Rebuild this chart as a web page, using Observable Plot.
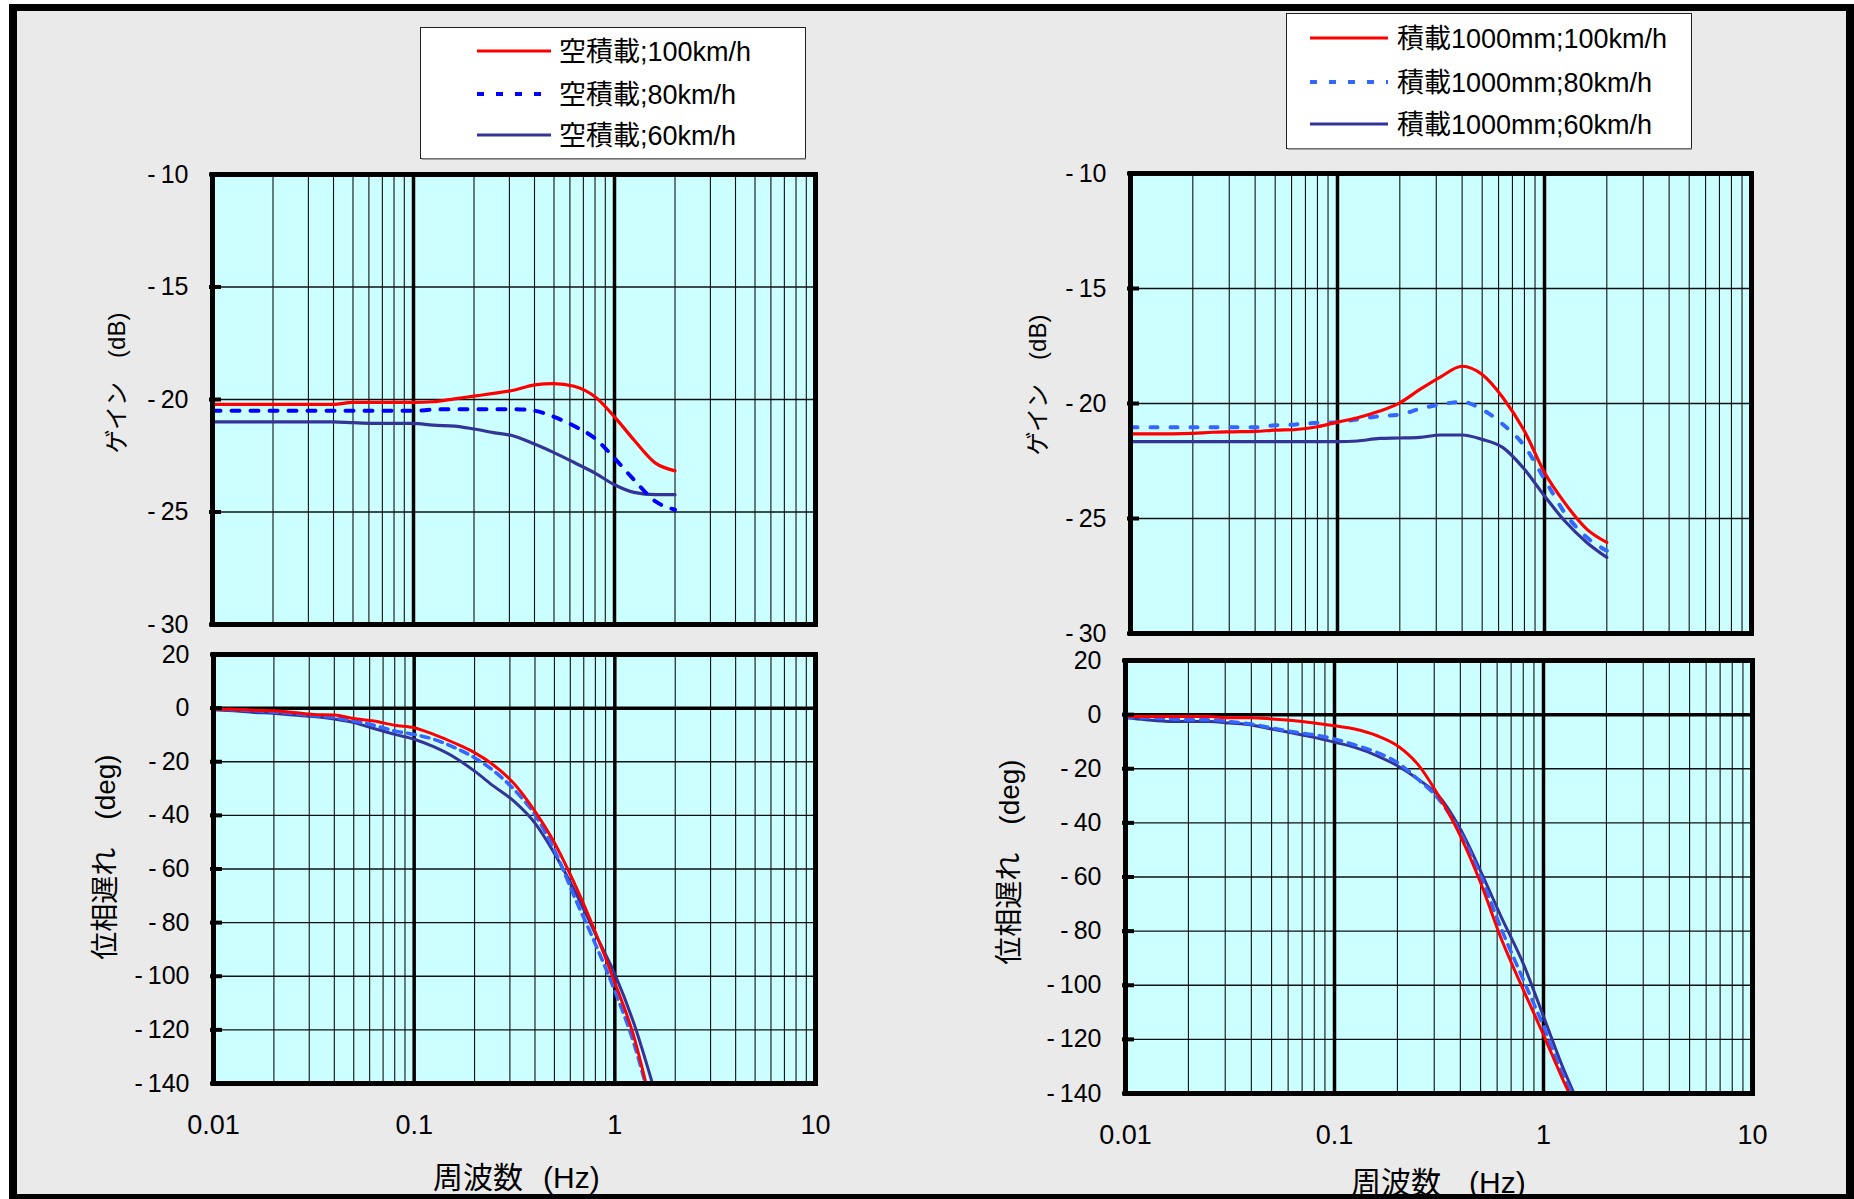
<!DOCTYPE html>
<html>
<head>
<meta charset="utf-8">
<script src="https://cdn.jsdelivr.net/npm/d3@7"></script>
<script src="https://cdn.jsdelivr.net/npm/@observablehq/plot@0.6"></script>
<style>
html, body { margin: 0; padding: 0; background: #fff; }
#page { position: relative; width: 1854px; height: 1199px; overflow: hidden;
  font-family: "Liberation Sans", "Noto Sans CJK JP", sans-serif; color: #000; }
#border { position: absolute; left: 9px; top: 4px; width: 1845px; height: 1195px; box-sizing: border-box;
  border-style: solid; border-color: #000; border-width: 7px 8px 5px 8px; background: #eaeaea; }
.ytitle { position: absolute; white-space: pre; transform: translate(-50%, -50%) rotate(-90deg); line-height: 1; }
.xtitle { position: absolute; white-space: pre; line-height: 1; transform: translateY(-50%); }
svg.legend { position: absolute; }
</style>
</head>
<body>
<div id="page"><div id="border"></div></div>
<script>
// ---------------- data ----------------
const freqGrid = [0.01, 0.0125, 0.016, 0.02, 0.025, 0.0315, 0.04, 0.05, 0.063, 0.08, 0.1, 0.125, 0.16, 0.2, 0.25, 0.315, 0.4, 0.5, 0.63, 0.8, 1.0, 1.25, 1.6, 2.0];

// gain (dB), empty load
const gainEmpty100 = [-20.22, -20.22, -20.22, -20.22, -20.22, -20.22, -20.22, -20.13, -20.13, -20.13, -20.13, -20.1, -19.97, -19.85, -19.73, -19.59, -19.35, -19.29, -19.41, -19.88, -20.77, -21.8, -22.83, -23.17];
const gainEmpty80  = [-20.5, -20.5, -20.5, -20.5, -20.5, -20.5, -20.5, -20.5, -20.5, -20.5, -20.5, -20.45, -20.43, -20.43, -20.43, -20.43, -20.5, -20.77, -21.18, -21.73, -22.61, -23.57, -24.53, -24.9];
const gainEmpty60  = [-20.99, -20.99, -20.99, -20.99, -20.99, -20.99, -20.99, -21.03, -21.06, -21.06, -21.06, -21.14, -21.18, -21.31, -21.47, -21.62, -21.98, -22.36, -22.8, -23.27, -23.79, -24.13, -24.23, -24.23];
// gain (dB), load 1000mm
const gainLoad100 = [-21.32, -21.32, -21.32, -21.3, -21.25, -21.23, -21.21, -21.16, -21.13, -21.01, -20.81, -20.62, -20.33, -19.97, -19.39, -18.84, -18.38, -18.74, -19.75, -21.2, -23.0, -24.31, -25.46, -26.04];
const gainLoad80  = [-21.03, -21.03, -21.03, -21.03, -21.03, -21.03, -21.03, -20.95, -20.91, -20.84, -20.81, -20.69, -20.55, -20.48, -20.23, -20.04, -19.93, -20.26, -20.91, -21.85, -23.29, -24.74, -25.82, -26.4];
const gainLoad60  = [-21.66, -21.66, -21.66, -21.66, -21.66, -21.66, -21.66, -21.66, -21.66, -21.66, -21.66, -21.63, -21.52, -21.5, -21.47, -21.37, -21.37, -21.56, -21.92, -22.86, -24.02, -25.1, -26.04, -26.69];

// phase (deg): values on freqGrid up to 1.25 Hz, last value where the curve leaves the plot at the frequency in *End
const phaseEmpty100 = [-0.4, -0.4, -0.8, -1.0, -1.6, -2.4, -2.6, -3.9, -4.8, -6.4, -7.3, -9.8, -13.1, -16.6, -21.4, -28.2, -38.5, -50.2, -65.5, -83.6, -102.4, -123, -140];
const phaseEmpty80  = [-0.4, -0.6, -1.0, -1.4, -2.0, -2.8, -3.5, -4.8, -6.4, -8.5, -9.8, -11.6, -14.8, -18.5, -23.5, -30.4, -39.8, -52.9, -70.5, -88, -105.5, -125.5, -140];
const phaseEmpty60  = [-0.6, -1.0, -1.6, -1.9, -2.6, -3.1, -4.1, -5.4, -7.6, -9.8, -11.6, -14.4, -18.5, -23.5, -29.2, -34.8, -42.9, -54.2, -68.0, -84.2, -99.2, -118, -140];
const phaseEmptyEnd = [1.43, 1.42, 1.54];
const phaseLoad100 = [-0.7, -0.7, -0.7, -0.7, -0.7, -1.2, -1.2, -1.6, -2.2, -3.1, -4.1, -5.3, -7.8, -11.5, -18.3, -30.0, -44.8, -62.1, -83.1, -101.6, -118.3, -135.6, -140];
const phaseLoad80  = [-1.0, -1.2, -1.5, -1.9, -1.9, -2.6, -3.5, -4.9, -6.3, -7.5, -9.0, -11.2, -14.0, -17.7, -23.8, -31.2, -43.6, -59.6, -79.4, -97.9, -115.2, -133.7, -140];
const phaseLoad60  = [-1.2, -1.9, -2.5, -2.5, -2.5, -3.1, -3.8, -5.3, -6.8, -8.4, -10.2, -12.1, -15.2, -18.9, -23.8, -30.0, -42.3, -57.8, -75, -92, -111.5, -131.2, -140];
const phaseLoadEnd = [1.33, 1.37, 1.40];

// ticks
const xTickLabels = [0.01, 0.1, 1, 10];
const xMajorGrid = [0.1, 1];
const xMinorGrid = [0.02, 0.03, 0.04, 0.05, 0.06, 0.07, 0.08, 0.09, 0.2, 0.3, 0.4, 0.5, 0.6, 0.7, 0.8, 0.9, 2, 3, 4, 5, 6, 7, 8, 9];
const gainTicks = [-10, -15, -20, -25, -30];
const phaseTicks = [20, 0, -20, -40, -60, -80, -100, -120, -140];

// legend labels
const emptyLabels = ["空積載;100km/h", "空積載;80km/h", "空積載;60km/h"];
const loadLabels = ["積載1000mm;100km/h", "積載1000mm;80km/h", "積載1000mm;60km/h"];

// ---------------- styles ----------------
const RED = "#ff0000", NAVY = "#333399", BLUE = "#0000ff", LBLUE = "#3366ff";
const FONT = '"Liberation Sans", "Noto Sans CJK JP", sans-serif';
const page = document.getElementById("page");
const yFmt = d => (d < 0 ? "-\u2009" + Math.abs(d) : String(d));

function seriesRows(freqs, values, key) {
  return values.map((v, i) => ({f: freqs[i], v, key}));
}

function bode({kind, series, left, top, width, height, mL, mR, mT, mB}) {
  const isPhase = kind === "phase";
  const yDomain = isPhase ? [-140, 20] : [-30, -10];
  const ticks = isPhase ? phaseTicks : gainTicks;
  const grid = ticks.filter(t => t !== yDomain[0] && t !== yDomain[1] && t !== 0);
  const marks = [
    Plot.frame({fill: "#ccffff", stroke: "none"}),
    Plot.ruleX(xMinorGrid, {stroke: "#111", strokeWidth: 1.1}),
    Plot.ruleY(grid, {stroke: "#111", strokeWidth: 1.3}),
    Plot.ruleX(xMajorGrid, {stroke: "#000", strokeWidth: 3.5}),
    isPhase ? Plot.ruleY([0], {stroke: "#000", strokeWidth: 3.5}) : null,
    ...series.map(s => Plot.line(s.rows, {x: "f", y: "v", stroke: s.color, strokeWidth: s.width,
      strokeDasharray: s.dash || null, strokeLinejoin: "round", curve: "monotone-x"})),
    Plot.frame({stroke: "#000", strokeWidth: 5}),
    Plot.axisY({ticks, tickSize: 12, dx: 9, strokeWidth: 4, fill: "none", label: null}),
    Plot.axisY({ticks, tickSize: 0, tickPadding: 24, tickFormat: yFmt, fontSize: 25, label: null}),
    isPhase ? Plot.axisX({ticks: xTickLabels, tickSize: 0, tickPadding: 31, tickFormat: d => String(d), fontSize: 27, label: null}) : null
  ];
  const svg = Plot.plot({
    width, height,
    marginLeft: mL, marginRight: mR, marginTop: mT, marginBottom: mB,
    x: {type: "log", domain: [0.01, 10], axis: isPhase ? undefined : null},
    y: {domain: yDomain},
    style: {background: "transparent", fontFamily: FONT, fontSize: "25px", color: "#000", overflow: "visible"},
    marks
  });
  svg.style.position = "absolute";
  svg.style.left = left + "px";
  svg.style.top = top + "px";
  page.appendChild(svg);
}

const phaseFreqs = (end) => freqGrid.slice(0, 22).concat([end]);

// left gain
bode({kind: "gain", left: 100, top: 150, width: 740, height: 500, mL: 112, mR: 25, mT: 24, mB: 26,
  series: [
    {rows: seriesRows(freqGrid, gainEmpty60, "60"), color: NAVY, width: 3.2},
    {rows: seriesRows(freqGrid, gainEmpty80, "80"), color: BLUE, width: 4, dash: "8,11"},
    {rows: seriesRows(freqGrid, gainEmpty100, "100"), color: RED, width: 3.2}
  ]});
// left phase
bode({kind: "phase", left: 100, top: 630, width: 740, height: 530, mL: 113, mR: 25, mT: 24, mB: 77,
  series: [
    {rows: seriesRows(phaseFreqs(phaseEmptyEnd[2]), phaseEmpty60, "60"), color: NAVY, width: 3},
    {rows: seriesRows(phaseFreqs(phaseEmptyEnd[1]), phaseEmpty80, "80"), color: LBLUE, width: 3.5, dash: "8,6"},
    {rows: seriesRows(phaseFreqs(phaseEmptyEnd[0]), phaseEmpty100, "100"), color: RED, width: 3}
  ]});
// right gain
bode({kind: "gain", left: 1020, top: 150, width: 760, height: 510, mL: 110, mR: 29, mT: 23, mB: 27,
  series: [
    {rows: seriesRows(freqGrid, gainLoad60, "60"), color: NAVY, width: 3.2},
    {rows: seriesRows(freqGrid, gainLoad80, "80"), color: LBLUE, width: 4, dash: "7,13"},
    {rows: seriesRows(freqGrid, gainLoad100, "100"), color: RED, width: 3.2}
  ]});
// right phase
bode({kind: "phase", left: 1020, top: 636, width: 760, height: 540, mL: 105, mR: 28, mT: 24, mB: 83,
  series: [
    {rows: seriesRows(phaseFreqs(phaseLoadEnd[2]), phaseLoad60, "60"), color: NAVY, width: 3},
    {rows: seriesRows(phaseFreqs(phaseLoadEnd[1]), phaseLoad80, "80"), color: LBLUE, width: 3.5, dash: "8,7"},
    {rows: seriesRows(phaseFreqs(phaseLoadEnd[0]), phaseLoad100, "100"), color: RED, width: 3}
  ]});

// ---------------- legends ----------------
function legend({left, top, width, height, lineX1, lineX2, textX, rowsY, labels, styles}) {
  const svg = d3.create("svg").attr("class", "legend").attr("width", width).attr("height", height)
    .style("left", left + "px").style("top", top + "px");
  svg.append("rect").attr("x", 0.5).attr("y", 0.5).attr("width", width - 2).attr("height", height - 2)
    .attr("fill", "#fff").attr("stroke", "#222").attr("stroke-width", 1);
  svg.append("line").attr("x1", 2).attr("x2", width - 1).attr("y1", height - 1).attr("y2", height - 1)
    .attr("stroke", "#888").attr("stroke-width", 1.5);
  labels.forEach((lab, i) => {
    const st = styles[i];
    svg.append("line").attr("x1", lineX1).attr("x2", lineX2).attr("y1", rowsY[i]).attr("y2", rowsY[i])
      .attr("stroke", st.color).attr("stroke-width", st.width).attr("stroke-dasharray", st.dash || null);
    svg.append("text").attr("x", textX).attr("y", rowsY[i]).attr("dy", "0.36em")
      .attr("font-family", FONT).attr("font-size", 27).text(lab);
  });
  page.appendChild(svg.node());
}
legend({left: 420, top: 27, width: 387, height: 133, lineX1: 57, lineX2: 131, textX: 139, rowsY: [24, 67, 108],
  labels: emptyLabels,
  styles: [{color: RED, width: 3}, {color: BLUE, width: 4, dash: "7,12"}, {color: NAVY, width: 3}]});
legend({left: 1286, top: 13, width: 407, height: 137, lineX1: 24, lineX2: 102, textX: 111, rowsY: [25, 69, 111],
  labels: loadLabels,
  styles: [{color: RED, width: 3}, {color: LBLUE, width: 4, dash: "7,12"}, {color: NAVY, width: 3}]});

// ---------------- axis titles ----------------
function addDiv(cls, html, x, y, size) {
  const d = document.createElement("div");
  d.className = cls;
  d.innerHTML = html;
  d.style.left = x + "px";
  d.style.top = y + "px";
  d.style.fontSize = size + "px";
  page.appendChild(d);
}
addDiv("ytitle", "ゲイン　(dB)", 117, 383, 24);
addDiv("ytitle", "位相遅れ　(deg)", 106, 857, 28);
addDiv("ytitle", "ゲイン　(dB)", 1038, 385, 24);
addDiv("ytitle", "位相遅れ　(deg)", 1010, 862, 28);
addDiv("xtitle", '周波数<span style="margin-left:20px">(Hz)</span>', 433, 1178, 30);
addDiv("xtitle", '周波数<span style="margin-left:28px">(Hz)</span>', 1351, 1183, 30);
</script>
</body>
</html>
